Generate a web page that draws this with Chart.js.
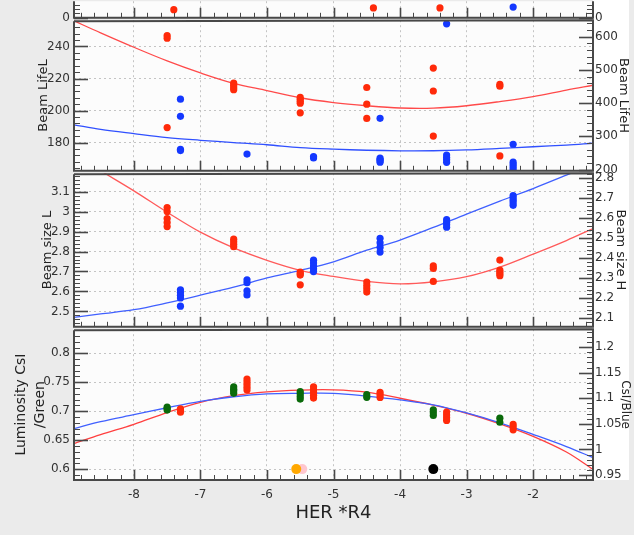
<!DOCTYPE html>
<html>
<head>
<meta charset="utf-8">
<script src="https://cdn.jsdelivr.net/npm/chart.js@4.4.0/dist/chart.umd.min.js"></script>
<style>
  html, body { margin: 0; padding: 0; }
  body { width: 634px; height: 535px; background: #ebebeb; position: relative; overflow: hidden; }
  canvas { position: absolute; left: 0; }
  #rightStrip { position: absolute; left: 593px; top: 0; width: 36px; height: 480px; background: #fff; }
</style>
</head>
<body>
<div id="rightStrip"></div>
<canvas id="cTop" width="634" height="39" style="top:-10px"></canvas>
<canvas id="cLife" width="634" height="173" style="top:9px"></canvas>
<canvas id="cSize" width="634" height="176" style="top:162px"></canvas>
<canvas id="cLumi" width="634" height="217" style="top:318px"></canvas>
<script>
// x positions where the fit curves are sampled
const fitX = [-8.9, -8.5, -8, -7.5, -7, -6.5, -6, -5.5, -5, -4.5, -4, -3.5, -3, -2.5, -2, -1.5, -1.1];

// strip at the very top (only its lower edge is on the page)
const topRedX = [-7.4, -4.4, -3.4];
const topRed = [9.3, 11.3, 11.3];
const topBlueX = [-2.3];
const topBlue = [12.3];

// beam lifetime, LER (left axis) and HER (right axis)
const lifeLX = [-7.5, -7.5, -7.5, -6.5, -6.5, -6.5, -6.5, -5.5, -5.5, -5.5, -5.5, -5.5, -4.5, -4.5, -4.5, -3.5, -3.5, -3.5, -2.5, -2.5, -2.5];
const lifeL = [246.8, 245.2, 189.4, 217.1, 215.7, 214.3, 213, 208.2, 207, 205.8, 204.6, 198.6, 214.4, 204, 195.1, 226.5, 212.2, 184.1, 216.3, 215.2, 171.7];
const lifeHX = [-7.3, -7.3, -7.3, -7.3, -6.3, -5.3, -5.3, -4.3, -4.3, -4.3, -4.3, -4.3, -3.3, -3.3, -3.3, -3.3, -3.3, -2.3, -2.3, -2.3, -2.3, -2.3];
const lifeH = [411.6, 360, 261, 257, 246.5, 239, 235, 354, 234, 230, 226, 222, 638.5, 243.5, 236, 229, 221.5, 276, 222, 215, 208, 201];
const fitLifeL = [256, 248.5, 239.5, 231, 223.5, 217, 212.5, 208, 205, 203, 201.6, 201.5, 203, 205.6, 208.7, 212.8, 215.8];
const fitLifeH = [334.5, 320.6, 307.8, 296, 288, 281, 274.5, 266, 261.3, 258, 256.3, 256.5, 259, 263.5, 268.5, 273.5, 279];

// beam size
const sizeLX = [-7.5, -7.5, -7.5, -7.5, -7.5, -6.5, -6.5, -6.5, -6.5, -5.5, -5.5, -5.5, -5.5, -4.5, -4.5, -4.5, -4.5, -3.5, -3.5, -3.5, -2.5, -2.5, -2.5, -2.5, -2.5];
const sizeL = [3.02, 3.0, 2.965, 2.945, 2.925, 2.862, 2.849, 2.836, 2.824, 2.697, 2.689, 2.682, 2.633, 2.647, 2.63, 2.614, 2.597, 2.728, 2.715, 2.65, 2.757, 2.707, 2.698, 2.689, 2.679];
const sizeHX = [-7.3, -7.3, -7.3, -7.3, -7.3, -6.3, -6.3, -6.3, -6.3, -5.3, -5.3, -5.3, -5.3, -5.3, -4.3, -4.3, -4.3, -4.3, -3.3, -3.3, -3.3, -3.3, -2.3, -2.3, -2.3, -2.3, -2.3];
const sizeH = [2.241, 2.227, 2.213, 2.2, 2.159, 2.291, 2.276, 2.235, 2.215, 2.389, 2.375, 2.36, 2.346, 2.332, 2.499, 2.476, 2.453, 2.43, 2.592, 2.579, 2.566, 2.554, 2.713, 2.701, 2.689, 2.677, 2.664];
const fitSizeL = [3.29, 3.205, 3.104, 2.997, 2.897, 2.818, 2.756, 2.706, 2.675, 2.65, 2.638, 2.648, 2.674, 2.722, 2.787, 2.855, 2.915];
const fitSizeH = [2.103, 2.12, 2.141, 2.175, 2.214, 2.254, 2.3, 2.338, 2.381, 2.439, 2.49, 2.553, 2.62, 2.685, 2.748, 2.815, 2.87];

// luminosity monitors: CsI/Green (left) and CsI/Blue (right)
const lumiGX = [-7.5, -7.5, -7.5, -6.5, -6.5, -6.5, -6.5, -5.5, -5.5, -5.5, -5.5, -4.5, -4.5, -3.5, -3.5, -3.5, -2.5, -2.5];
const lumiG = [0.707, 0.7045, 0.702, 0.742, 0.738, 0.735, 0.731, 0.734, 0.73, 0.7255, 0.721, 0.7286, 0.724, 0.7024, 0.6975, 0.6926, 0.688, 0.681];
const lumiBX = [-7.3, -7.3, -7.3, -6.3, -6.3, -6.3, -6.3, -6.3, -5.3, -5.3, -5.3, -5.3, -5.3, -4.3, -4.3, -4.3, -3.3, -3.3, -3.3, -3.3, -2.3, -2.3, -2.3];
const lumiB = [1.0793, 1.076, 1.0727, 1.1374, 1.132, 1.1267, 1.1213, 1.1159, 1.1225, 1.117, 1.1115, 1.106, 1.1004, 1.1116, 1.1067, 1.1017, 1.0729, 1.0675, 1.062, 1.0566, 1.0488, 1.0436, 1.0384];
const fitLumiG = [0.67, 0.682, 0.694, 0.706, 0.717, 0.725, 0.73, 0.731, 0.731, 0.726, 0.7195, 0.711, 0.697, 0.68, 0.66, 0.639, 0.62];
const fitLumiB = [1.0114, 1.029, 1.049, 1.072, 1.092, 1.105, 1.1125, 1.116, 1.1165, 1.112, 1.1, 1.0865, 1.0707, 1.05, 1.0256, 0.995, 0.961];
const markX = [-5.47, -5.56, -3.5];
const markY = [0.6, 0.6, 0.6];

const RED = '#ff2a0a', BLUE = '#1438ff', GREEN = '#0a6a0a';
const TXT = '#333';
Chart.defaults.font.family = 'DejaVu Sans';

function pts(xs, ys, color, axis, r) {
  return {
    data: xs.map((x, i) => ({ x: x, y: ys[i] })), yAxisID: axis,
    backgroundColor: color, borderWidth: 0, pointRadius: r || 3.6, showLine: false, order: 1
  };
}
function fit(ys, color, axis) {
  return {
    data: fitX.map((x, i) => ({ x: x, y: ys[i] })), yAxisID: axis,
    borderColor: color, borderWidth: 1.3, pointRadius: 0, showLine: true, tension: 0.35, clip: 0, order: 2
  };
}
const fmt = v => String(+v.toFixed(4));

// plot background, frame and the inward tick marks
function tickRun(ctx, scale, minor, long, short, seg) {
  const k0 = Math.ceil(scale.min / minor - 1e-6), k1 = Math.floor(scale.max / minor + 1e-6);
  for (let k = k0; k <= k1; k++) {
    const major = k % 5 === 0;
    const p = Math.round(scale.getPixelForValue(k * minor)) + 0.5;
    ctx.lineWidth = major ? 1.6 : 1;
    ctx.beginPath();
    seg(p, major ? long : short);
    ctx.stroke();
  }
}
const frame = {
  id: 'frame',
  beforeDraw(chart) {
    const { ctx, chartArea: a } = chart;
    ctx.save();
    ctx.fillStyle = '#fcfcfc';
    ctx.fillRect(a.left, a.top, a.right - a.left, a.bottom - a.top);
    ctx.restore();
  },
  afterDraw(chart, args, o) {
    const { ctx, chartArea: a, scales } = chart;
    ctx.save();
    ctx.strokeStyle = '#484848';
    tickRun(ctx, scales.x, 0.2, 10, 5, (p, l) => { ctx.moveTo(p, a.bottom); ctx.lineTo(p, a.bottom - l); });
    tickRun(ctx, scales.y, o.yMinor, 14, 6, (p, l) => { ctx.moveTo(a.left, p); ctx.lineTo(a.left + l, p); });
    tickRun(ctx, scales.y2, o.y2Minor, 14, 6, (p, l) => { ctx.moveTo(a.right, p); ctx.lineTo(a.right - l, p); });
    ctx.lineWidth = 2;
    ctx.beginPath();
    ctx.moveTo(a.left, o.open ? a.top : a.top + 1);
    ctx.lineTo(a.left, a.bottom);
    ctx.lineTo(a.right, a.bottom);
    ctx.lineTo(a.right, a.top);
    if (!o.open) ctx.lineTo(a.left, a.top + 1);
    ctx.stroke();
    ctx.restore();
  }
};

function yAxis(side, min, max, step, title, titlePad, withGrid) {
  const left = side === 'left';
  return {
    type: 'linear', position: side, min: min, max: max,
    border: { display: false, dash: [2, 3] },
    grid: { display: withGrid, color: '#c4c4c4', drawTicks: false },
    ticks: { stepSize: step, includeBounds: false, padding: left ? 4 : 2, color: TXT, font: { size: 12 }, callback: fmt },
    title: { display: !!title, text: title, color: '#222', font: { size: 13 }, padding: { top: titlePad, bottom: 0 } },
    afterFit: s => { s.width = left ? 74 : 41; }
  };
}

function panel(id, datasets, yL, yR, opts) {
  const bottom = !!opts.bottom;
  return new Chart(document.getElementById(id), {
    type: 'scatter',
    data: { datasets: datasets },
    options: {
      responsive: false, animation: false, devicePixelRatio: 1,
      layout: { padding: { left: 0, right: 0, top: 10, bottom: bottom ? 0 : 10 } },
      plugins: { legend: { display: false }, tooltip: { enabled: false }, frame: opts.frame },
      scales: {
        x: {
          type: 'linear', min: -8.9, max: -1.1,
          border: { display: false, dash: [2, 3] },
          grid: { color: '#c4c4c4', drawTicks: false },
          ticks: { display: bottom, stepSize: 1, includeBounds: false, padding: 8, color: TXT, font: { size: 12 }, callback: fmt },
          title: { display: bottom, text: 'HER *R4', color: '#222', font: { size: 18 }, padding: { top: 0, bottom: 11 } },
          afterFit: s => { s.height = bottom ? 55 : 0; }
        },
        y: yL,
        y2: yR
      }
    },
    plugins: [frame]
  });
}

panel('cTop',
  [pts(topRedX, topRed, RED, 'y'), pts(topBlueX, topBlue, BLUE, 'y')],
  yAxis('left', 0, 19, 100, '', 0, false),
  yAxis('right', 0, 19, 100, '', 0, false),
  { frame: { yMinor: 5, y2Minor: 5, open: true } });

panel('cLife',
  [pts(lifeLX, lifeL, RED, 'y'), pts(lifeHX, lifeH, BLUE, 'y2'), fit(fitLifeL, '#ff4a4a', 'y'), fit(fitLifeH, '#3050ff', 'y2')],
  yAxis('left', 162.4, 256.4, 20, 'Beam LifeL', 35.7, true),
  yAxis('right', 196.1, 649.5, 100, 'Beam LifeH', 2.7, false),
  { frame: { yMinor: 4, y2Minor: 20 } });

panel('cSize',
  [pts(sizeLX, sizeL, RED, 'y'), pts(sizeHX, sizeH, BLUE, 'y2'), fit(fitSizeL, '#ff5a5a', 'y'), fit(fitSizeH, '#4060ff', 'y2')],
  yAxis('left', 2.4228, 3.1924, 0.1, 'Beam size L', 39.9, true),
  yAxis('right', 2.0555, 2.8248, 0.1, 'Beam size H', 6.2, false),
  { frame: { yMinor: 0.02, y2Minor: 0.02 } });

const lumiLeft = yAxis('left', 0.5812, 0.8417, 0.05, ['Luminosity CsI', '/Green'], 12.6, true);
lumiLeft.title.font = { size: 14, lineHeight: 1.3 };
const lumiRight = yAxis('right', 0.9403, 1.2349, 0.05, 'CsI/Blue', 1.8, false);
lumiRight.title.font = { size: 12 };

panel('cLumi',
  [
    { data: markX.map((x, i) => ({ x: x, y: markY[i] })), yAxisID: 'y', backgroundColor: ['#ffc6ce', '#ffa800', '#000000'], borderWidth: 0, pointRadius: 5, showLine: false, order: 0 },
    pts(lumiGX, lumiG, GREEN, 'y'), pts(lumiBX, lumiB, RED, 'y2'),
    fit(fitLumiG, '#4060ff', 'y'), fit(fitLumiB, '#ff4040', 'y2')
  ],
  lumiLeft, lumiRight,
  { bottom: true, frame: { yMinor: 0.01, y2Minor: 0.01 } });
</script>
</body>
</html>
